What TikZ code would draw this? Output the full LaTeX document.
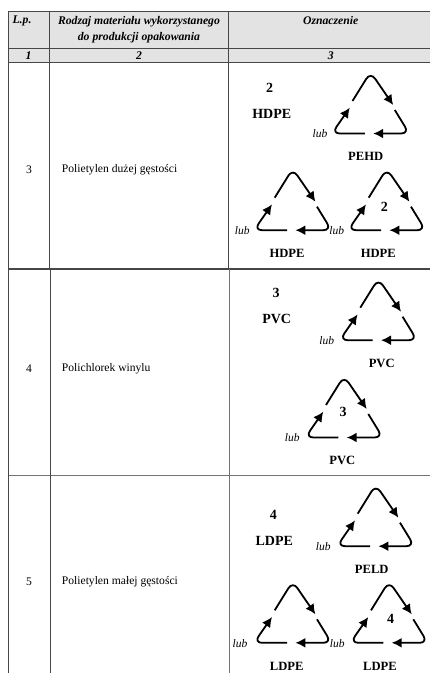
\documentclass[tikz,border=0pt]{standalone}
\usepackage{fontspec}
\setmainfont{Liberation Serif}
\usetikzlibrary{arrows.meta}
\tikzset{
  rule/.style={draw=black!72,line width=0.9pt},
  rulegray/.style={draw=black!55,line width=1pt},
  hdr/.style={font=\fontsize{11.7}{16}\selectfont\bfseries\itshape,align=center,inner sep=0pt},
  body/.style={font=\fontsize{11.6}{13}\selectfont,inner sep=0pt},
  lab/.style={font=\fontsize{12.6}{14}\selectfont\bfseries,inner sep=0pt},
  big/.style={font=\fontsize{14}{16}\selectfont\bfseries,inner sep=0pt},
  lub/.style={font=\fontsize{11.5}{13}\selectfont\itshape,inner sep=0pt},
  loop/.style={line width=1.8pt,rounded corners=8pt,-{Latex[length=10pt,width=10pt]}}
}
\newcommand{\recyc}[2]{%
  \begin{scope}[shift={(#1,#2)}]
    \draw[loop] (-18,26) -- (0,-3) -- (22.7,30);
    \draw[loop] (24.3,35) -- (38.7,58.5) -- (2.7,58.5);
    \draw[loop] (-5.7,58.5) -- (-38.7,58.5) -- (-20.7,32.7);
  \end{scope}}
\begin{document}
\begin{tikzpicture}[x=1pt,y=-1pt]
\useasboundingbox (0,0) rectangle (430,673);
\fill[black!11] (8,11.5) rectangle (430,62.5);
\draw[rule] (8,11.5) -- (430,11.5);
\draw[rule] (8,48.3) -- (430,48.3);
\draw[rule] (8,62.5) -- (430,62.5);
\draw[rule,line width=1.2pt] (8,269) -- (430,269);
\draw[rulegray] (8,475) -- (430,475);
\draw[rule] (8,11.5) -- (8,673);
\draw[rule] (49.5,11.5) -- (49.5,269);
\draw[rule] (50.5,269) -- (50.5,673);
\draw[rule] (228.7,11.5) -- (228.7,269);
\draw[rulegray,line width=1.1pt] (229.3,269) -- (229.3,673);
\node[hdr] (a1) at (22,20.5) {L.p.};
\node[hdr] (a2) at (139,29.7) {Rodzaj materiału wykorzystanego\\do produkcji opakowania};
\node[hdr] (a3) at (330.7,20) {Oznaczenie};
\node[hdr] (b1) at (28.5,56) {1};
\node[hdr] (b2) at (139,56) {2};
\node[hdr] (b3) at (330.7,56) {3};
\node[body] (n3) at (29,170) {3};
\node[body,anchor=west] (m3) at (61.7,170) {Polietylen dużej gęstości};
\node[body] (n4) at (29,369) {4};
\node[body,anchor=west] (m4) at (61.7,369) {Polichlorek winylu};
\node[body] (n5) at (29,581.7) {5};
\node[body,anchor=west] (m5) at (61.7,581.7) {Polietylen małej gęstości};
% row 3
\node[big] at (269.7,88) {2};
\node[big] at (271.7,114) {HDPE};
\recyc{370.5}{75}
\node[lub] at (320,134) {lub};
\node[lab] at (365.7,156.7) {PEHD};
\recyc{292.7}{171.7}
\node[lub] at (242.3,231) {lub};
\node[lab] at (287,253.3) {HDPE};
\recyc{386.7}{171.7}
\node[lub] at (336.7,231) {lub};
\node[big] at (384.3,207.3) {2};
\node[lab] at (378.3,253.3) {HDPE};
% row 4
\node[big] at (276,292.7) {3};
\node[big] at (276.7,319) {PVC};
\recyc{378.3}{281.7}
\node[lub] at (326.7,340.7) {lub};
\node[lab] at (381.7,363.3) {PVC};
\recyc{344}{379}
\node[lub] at (292.3,437.7) {lub};
\node[big] at (343,412.3) {3};
\node[lab] at (342.3,460) {PVC};
% row 5
\node[big] at (273.3,515) {4};
\node[big] at (274.3,540.7) {LDPE};
\recyc{375.7}{487.7}
\node[lub] at (323.3,546.7) {lub};
\node[lab] at (371.7,569) {PELD};
\recyc{292.7}{584.3}
\node[lub] at (240,643.3) {lub};
\node[lab] at (286.7,666) {LDPE};
\recyc{389}{584.3}
\node[lub] at (337.3,643.3) {lub};
\node[big] at (390.7,619) {4};
\node[lab] at (380,666) {LDPE};
\end{tikzpicture}
\end{document}
